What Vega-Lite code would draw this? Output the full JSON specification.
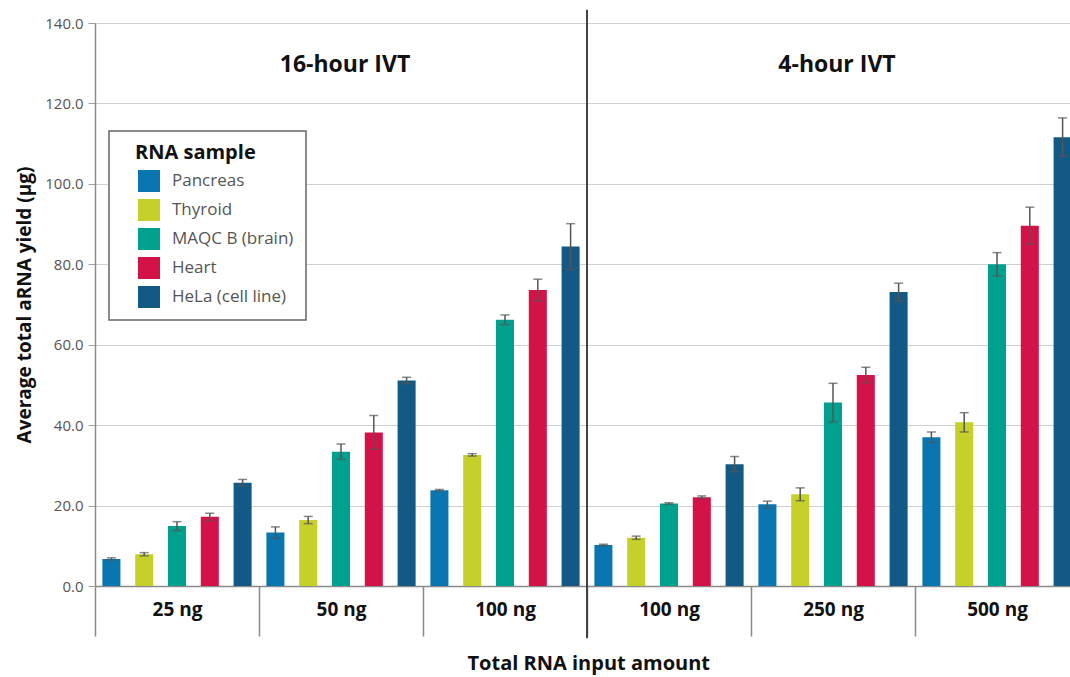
{
  "$schema": "https://vega.github.io/schema/vega-lite/v6.json",
  "autosize": {"type": "none"},
  "width": 975,
  "height": 563,
  "padding": {"left": 95, "top": 23, "right": 0, "bottom": 91},
  "background": "white",
  "config": {
    "font": "Open Sans",
    "view": {"stroke": null},
    "axis": {"labelFont": "Open Sans", "titleFont": "Open Sans"}
  },
  "datasets": {
    "bars": [
      {"g": "16|25 ng", "s": "Pancreas", "v": 6.7, "lo": 6.4, "hi": 7.0},
      {"g": "16|25 ng", "s": "Thyroid", "v": 7.9, "lo": 7.5, "hi": 8.3},
      {"g": "16|25 ng", "s": "MAQC B (brain)", "v": 14.9, "lo": 13.8, "hi": 16.0},
      {"g": "16|25 ng", "s": "Heart", "v": 17.2, "lo": 16.3, "hi": 18.1},
      {"g": "16|25 ng", "s": "HeLa (cell line)", "v": 25.7, "lo": 24.9, "hi": 26.5},
      {"g": "16|50 ng", "s": "Pancreas", "v": 13.3, "lo": 11.9, "hi": 14.7},
      {"g": "16|50 ng", "s": "Thyroid", "v": 16.4, "lo": 15.5, "hi": 17.3},
      {"g": "16|50 ng", "s": "MAQC B (brain)", "v": 33.4, "lo": 31.5, "hi": 35.3},
      {"g": "16|50 ng", "s": "Heart", "v": 38.2, "lo": 34.0, "hi": 42.4},
      {"g": "16|50 ng", "s": "HeLa (cell line)", "v": 51.1, "lo": 50.3, "hi": 51.9},
      {"g": "16|100 ng", "s": "Pancreas", "v": 23.8, "lo": 23.6, "hi": 24.0},
      {"g": "16|100 ng", "s": "Thyroid", "v": 32.6, "lo": 32.3, "hi": 32.9},
      {"g": "16|100 ng", "s": "MAQC B (brain)", "v": 66.2, "lo": 65.0, "hi": 67.4},
      {"g": "16|100 ng", "s": "Heart", "v": 73.6, "lo": 70.9, "hi": 76.3},
      {"g": "16|100 ng", "s": "HeLa (cell line)", "v": 84.4, "lo": 78.7, "hi": 90.1},
      {"g": "4|100 ng", "s": "Pancreas", "v": 10.2, "lo": 10.0, "hi": 10.4},
      {"g": "4|100 ng", "s": "Thyroid", "v": 12.0, "lo": 11.6, "hi": 12.4},
      {"g": "4|100 ng", "s": "MAQC B (brain)", "v": 20.5, "lo": 20.3, "hi": 20.7},
      {"g": "4|100 ng", "s": "Heart", "v": 22.1, "lo": 21.8, "hi": 22.4},
      {"g": "4|100 ng", "s": "HeLa (cell line)", "v": 30.3, "lo": 28.4, "hi": 32.2},
      {"g": "4|250 ng", "s": "Pancreas", "v": 20.3, "lo": 19.5, "hi": 21.1},
      {"g": "4|250 ng", "s": "Thyroid", "v": 22.8, "lo": 21.2, "hi": 24.4},
      {"g": "4|250 ng", "s": "MAQC B (brain)", "v": 45.6, "lo": 40.8, "hi": 50.4},
      {"g": "4|250 ng", "s": "Heart", "v": 52.5, "lo": 50.6, "hi": 54.4},
      {"g": "4|250 ng", "s": "HeLa (cell line)", "v": 73.1, "lo": 70.9, "hi": 75.3},
      {"g": "4|500 ng", "s": "Pancreas", "v": 37.0, "lo": 35.7, "hi": 38.3},
      {"g": "4|500 ng", "s": "Thyroid", "v": 40.7, "lo": 38.3, "hi": 43.1},
      {"g": "4|500 ng", "s": "MAQC B (brain)", "v": 80.0, "lo": 77.1, "hi": 82.9},
      {"g": "4|500 ng", "s": "Heart", "v": 89.6, "lo": 85.0, "hi": 94.2},
      {"g": "4|500 ng", "s": "HeLa (cell line)", "v": 111.6, "lo": 106.8, "hi": 116.4}
    ],
    "headers": [
      {"g": "16|50 ng", "t": "16-hour IVT"},
      {"g": "4|250 ng", "t": "4-hour IVT"}
    ],
    "divider": [
      {"g": "4|100 ng"}
    ]
  },
  "encoding": {
    "x": {
      "field": "g",
      "type": "nominal",
      "sort": ["16|25 ng", "16|50 ng", "16|100 ng", "4|100 ng", "4|250 ng", "4|500 ng"],
      "scale": {
        "domain": ["16|25 ng", "16|50 ng", "16|100 ng", "4|100 ng", "4|250 ng", "4|500 ng"],
        "range": [0, 984],
        "paddingInner": 0,
        "paddingOuter": 0
      },
      "axis": {
        "title": "Total RNA input amount",
        "titleFontSize": 20,
        "titleFontWeight": "bold",
        "titleColor": "#111",
        "titlePadding": 17,
        "titleAnchor": "start",
        "titleX": 372,
        "labelExpr": "split(datum.label, '|')[1]",
        "labelAngle": 0,
        "labelFontSize": 19,
        "labelFontWeight": "bold",
        "labelColor": "#111",
        "labelPadding": -36,
        "tickBand": "extent",
        "tickSize": 50,
        "tickColor": "#8a8a8a",
        "tickWidth": 1.5,
        "domainColor": "#8a8a8a",
        "domainWidth": 1.5,
        "grid": false
      }
    }
  },
  "layer": [
    {
      "data": {"name": "bars"},
      "mark": {"type": "bar"},
      "encoding": {
        "xOffset": {
          "field": "s",
          "type": "nominal",
          "sort": ["Pancreas", "Thyroid", "MAQC B (brain)", "Heart", "HeLa (cell line)"],
          "scale": {"paddingInner": 0.45, "paddingOuter": 0.225}
        },
        "y": {
          "field": "v",
          "type": "quantitative",
          "scale": {"domain": [0, 140], "nice": false, "zero": true},
          "axis": {
            "title": "Average total aRNA yield (µg)",
            "titleFontSize": 19,
            "titleFontWeight": "bold",
            "titleColor": "#111",
            "titlePadding": 10,
            "values": [0, 20, 40, 60, 80, 100, 120, 140],
            "format": ".1f",
            "labelFontSize": 15,
            "labelColor": "#555",
            "labelPadding": 5,
            "tickSize": 7,
            "tickColor": "#a0a0a0",
            "domainColor": "#8a8a8a",
            "domainWidth": 1.5,
            "grid": true,
            "gridColor": "#cfcfcf",
            "gridWidth": 1
          }
        },
        "color": {
          "field": "s",
          "type": "nominal",
          "sort": ["Pancreas", "Thyroid", "MAQC B (brain)", "Heart", "HeLa (cell line)"],
          "scale": {
            "domain": ["Pancreas", "Thyroid", "MAQC B (brain)", "Heart", "HeLa (cell line)"],
            "range": ["#0a76b1", "#c6d02a", "#00a08f", "#d31347", "#125a85"]
          },
          "legend": {
            "title": "RNA sample",
            "orient": "none",
            "legendX": 14,
            "legendY": 108,
            "fillColor": "white",
            "strokeColor": "#666",
            "padding": 12,
            "titleFontSize": 20,
            "titleFontWeight": "bold",
            "titleColor": "#111",
            "titlePadding": 7,
            "labelFontSize": 17,
            "labelColor": "#555",
            "labelOffset": 12,
            "symbolType": "square",
            "symbolSize": 484,
            "symbolStrokeWidth": 0,
            "symbolOffset": 17,
            "rowPadding": 7,
            "encode": {
              "title": {"update": {"dx": {"value": 14}}},
              "legend": {"update": {"strokeWidth": {"value": 1.5}}}
            }
          }
        }
      }
    },
    {
      "data": {"name": "bars"},
      "mark": {"type": "rule", "color": "#555", "strokeWidth": 1.5},
      "encoding": {
        "xOffset": {"field": "s", "type": "nominal", "sort": ["Pancreas", "Thyroid", "MAQC B (brain)", "Heart", "HeLa (cell line)"]},
        "y": {"field": "lo", "type": "quantitative"},
        "y2": {"field": "hi"}
      }
    },
    {
      "data": {"name": "bars"},
      "mark": {"type": "tick", "color": "#555", "thickness": 1.5, "size": 9},
      "encoding": {
        "xOffset": {"field": "s", "type": "nominal", "sort": ["Pancreas", "Thyroid", "MAQC B (brain)", "Heart", "HeLa (cell line)"]},
        "y": {"field": "lo", "type": "quantitative"}
      }
    },
    {
      "data": {"name": "bars"},
      "mark": {"type": "tick", "color": "#555", "thickness": 1.5, "size": 9},
      "encoding": {
        "xOffset": {"field": "s", "type": "nominal", "sort": ["Pancreas", "Thyroid", "MAQC B (brain)", "Heart", "HeLa (cell line)"]},
        "y": {"field": "hi", "type": "quantitative"}
      }
    },
    {
      "data": {"name": "headers"},
      "mark": {"type": "text", "fontSize": 23, "fontWeight": "bold", "color": "#111", "baseline": "middle", "align": "center", "dx": 4},
      "encoding": {
        "y": {"datum": 129.5, "type": "quantitative"},
        "text": {"field": "t"}
      }
    },
    {
      "data": {"name": "divider"},
      "mark": {"type": "rule", "color": "#444", "strokeWidth": 2},
      "encoding": {
        "x": {"field": "g", "type": "nominal", "bandPosition": 0},
        "y": {"datum": -13, "type": "quantitative"},
        "y2": {"datum": 143.3}
      }
    }
  ]
}
